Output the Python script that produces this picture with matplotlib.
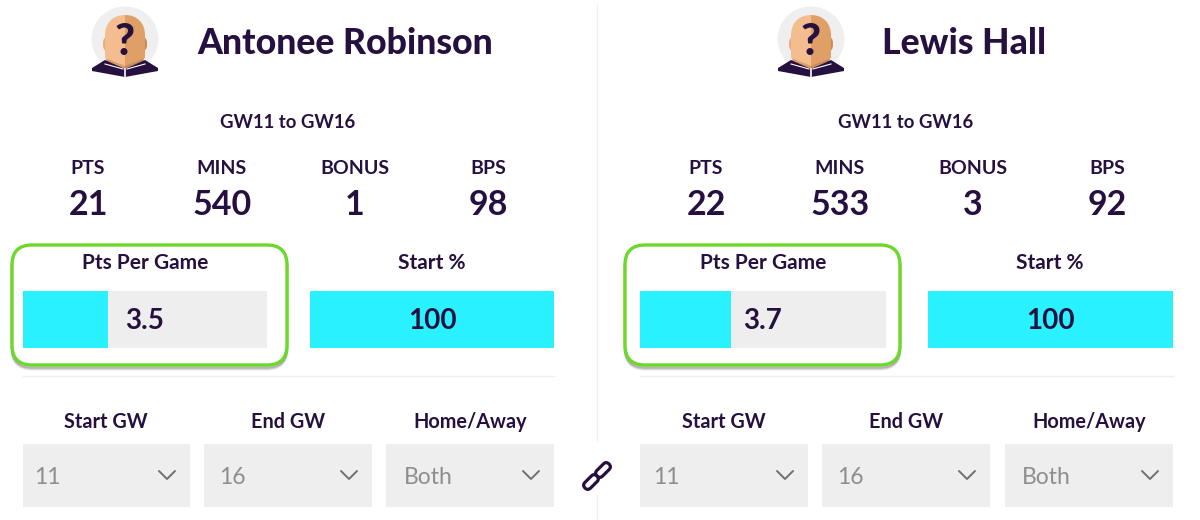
import matplotlib
matplotlib.use("Agg")
import matplotlib.pyplot as plt
from matplotlib.patches import FancyBboxPatch, Ellipse, Polygon, Rectangle, PathPatch
from matplotlib.path import Path
from matplotlib.transforms import Affine2D

players = ["Antonee Robinson", "Lewis Hall"]
period = "GW11 to GW16"
stat_labels = ["PTS", "MINS", "BONUS", "BPS"]
pts = [21, 22]
mins = [540, 533]
bonus = [1, 3]
bps = [98, 92]
pts_per_game = [3.5, 3.7]
start_pct = [100, 100]
pts_per_game_max = 10
start_pct_max = 100
filter_labels = ["Start GW", "End GW", "Home/Away"]
filter_values = ["11", "16", "Both"]

DARK = "#25103f"
CYAN = "#2af1ff"
GREY = "#eeeeee"
MUTED = "#8e8e8e"
GREEN = "#6cd82a"
W, H = 1200, 520
FONT = "Lato"

fig = plt.figure(figsize=(W / 100, H / 100), dpi=100, facecolor="white")
ax = fig.add_axes([0, 0, 1, 1])
ax.set_xlim(0, W)
ax.set_ylim(H, 0)
ax.axis("off")


def label(x, y, s, size, color=DARK, ha="center", weight="bold", **kw):
    ax.text(x, y + 2, s, fontsize=size, color=color, ha=ha, va="center",
            family=FONT, fontweight=weight, **kw)


def blob(points, color, z=2):
    ax.add_patch(Polygon(points, closed=True, fc=color, ec="none", zorder=z))


def avatar(cx):
    ax.add_patch(Ellipse((cx, 39), 67, 65, fc="#efefef", ec="none", zorder=1))
    # ears
    ax.add_patch(Ellipse((cx - 20, 44), 4, 12, fc="#e8ab7e", ec="none", zorder=2))
    ax.add_patch(Ellipse((cx + 20, 44), 4, 12, fc="#c98a56", ec="none", zorder=2))
    # neck and shirt collar
    blob([(cx - 18, 50), (cx, 50), (cx, 71), (cx - 19, 64)], "#d99a68", 2)
    blob([(cx + 18, 50), (cx, 50), (cx, 71), (cx + 19, 64)], "#c88a58", 2)
    # head: two-tone split down the middle
    head = Path([(cx, 15), (cx - 13, 15), (cx - 20, 24), (cx - 20, 35), (cx - 20, 58),
                 (cx, 66), (cx, 15)],
                [Path.MOVETO, Path.CURVE4, Path.CURVE4, Path.CURVE4, Path.LINETO,
                 Path.LINETO, Path.CLOSEPOLY])
    ax.add_patch(PathPatch(head, fc="#f3bd90", ec="none", zorder=3))
    head_r = Path([(cx, 15), (cx + 13, 15), (cx + 20, 24), (cx + 20, 35), (cx + 20, 58),
                   (cx, 66), (cx, 15)],
                  [Path.MOVETO, Path.CURVE4, Path.CURVE4, Path.CURVE4, Path.LINETO,
                   Path.LINETO, Path.CLOSEPOLY])
    ax.add_patch(PathPatch(head_r, fc="#e19f68", ec="none", zorder=3))
    # shoulders
    blob([(cx - 33, 68), (cx - 20, 60), (cx, 69), (cx, 77), (cx - 33, 71)], DARK, 4)
    blob([(cx + 33, 68), (cx + 20, 60), (cx, 69), (cx, 77), (cx + 33, 71)], DARK, 4)
    ax.plot([cx - 20, cx - 2], [64, 69], color="white", lw=0.8, zorder=5)
    ax.plot([cx + 20, cx + 2], [64, 69], color="white", lw=0.8, zorder=5)
    ax.plot([cx, cx], [69, 77], color="white", lw=1.2, zorder=5)
    ax.text(cx, 42, "?", fontsize=31, color=DARK, ha="center", va="center",
            family=FONT, fontweight="black", zorder=6)


def chevron(cx, cy):
    ax.plot([cx - 8, cx, cx + 8], [cy - 4, cy + 4, cy - 4], color="#6f6f6f", lw=1.4,
            solid_capstyle="round", zorder=3)


def value_bar(x0, x1, y0, y1, value, vmax, text_x):
    bar_ax = fig.add_axes([x0 / W, 1 - y1 / H, (x1 - x0) / W, (y1 - y0) / H])
    bar_ax.barh([0], [value], height=1, color=CYAN)
    bar_ax.set_xlim(0, vmax)
    bar_ax.set_ylim(-0.5, 0.5)
    bar_ax.set_facecolor(GREY)
    bar_ax.set_xticks([])
    bar_ax.set_yticks([])
    for sp in bar_ax.spines.values():
        sp.set_visible(False)
    bar_ax.set_zorder(3)
    ax.set_zorder(1)
    fx = (text_x - x0) / (x1 - x0)
    bar_ax.text(fx, 0.47, f"{value}", transform=bar_ax.transAxes, fontsize=20,
                color=DARK, ha="center", va="center", family=FONT, fontweight="bold")


panels = [
    dict(avatar=125, title=197, gw=288, cols=[88, 222, 355, 488], box=(12, 287),
         tr1=(23, 267), t1=145, tr2=(310, 554), t2=432, rule=(23, 554),
         dd=[(23, 190), (204, 372), (386, 554)], ddtxt=[47, 232, 428],
         chev=[167, 349, 531], head=[106, 288, 470]),
    dict(avatar=811, title=882, gw=906, cols=[706, 840, 973, 1107], box=(625, 900),
         tr1=(640, 886), t1=763, tr2=(928, 1173), t2=1050, rule=(640, 1173),
         dd=[(640, 808), (822, 990), (1005, 1173)], ddtxt=[666, 850, 1046],
         chev=[785, 967, 1150], head=[724, 906, 1089]),
]

# central divider and link icon
ax.plot([597, 597], [5, 440], color="#efefef", lw=1, zorder=0)
ax.plot([597, 597], [495, 520], color="#efefef", lw=1, zorder=0)
for tx, ty in [(591, 482), (603, 470)]:
    link = FancyBboxPatch((-8.5, -4), 17, 8, boxstyle="round,pad=0,rounding_size=4",
                          fc="none", ec=DARK, lw=2.3, zorder=4)
    link.set_transform(Affine2D().rotate_deg(-45).translate(tx, ty) + ax.transData)
    ax.add_patch(link)

for i, p in enumerate(panels):
    avatar(p["avatar"])
    label(p["title"], 42, players[i], 25.7, ha="left", weight="black")
    label(p["gw"], 121, period, 13.3)
    values = [pts[i], mins[i], bonus[i], bps[i]]
    for cx, lab, v in zip(p["cols"], stat_labels, values):
        label(cx, 167, lab, 14)
        label(cx, 203, str(v), 24.5, weight="bold")
    # highlight box with soft shadow
    bx0, bx1 = p["box"]
    for off, a in [(4, 0.10), (3, 0.12), (2, 0.15)]:
        ax.add_patch(FancyBboxPatch((bx0, 245 + off), bx1 - bx0, 120,
                                    boxstyle="round,pad=0,rounding_size=20",
                                    fc="none", ec="black", lw=2, alpha=a, zorder=1))
    ax.add_patch(FancyBboxPatch((bx0, 245), bx1 - bx0, 120,
                                boxstyle="round,pad=0,rounding_size=20",
                                fc="white", ec=GREEN, lw=2.4, zorder=2))
    label(p["t1"], 261, "Pts Per Game", 15, zorder=3)
    label(p["t2"], 261, "Start %", 15, zorder=3)
    value_bar(*p["tr1"], 291, 348, pts_per_game[i], pts_per_game_max, p["t1"])
    value_bar(*p["tr2"], 291, 348, start_pct[i], start_pct_max, p["t2"])
    ax.plot(p["rule"], [376, 376], color="#efefef", lw=1, zorder=0)
    for (d0, d1), tx, cx, hx, lab, v in zip(p["dd"], p["ddtxt"], p["chev"], p["head"],
                                            filter_labels, filter_values):
        label(hx, 420, lab, 14.3)
        ax.add_patch(Rectangle((d0, 444), d1 - d0, 63, fc=GREY, ec="none", zorder=1))
        label(tx, 475, v, 16.5, color=MUTED, weight="normal", zorder=3)
        chevron(cx, 475)

fig.savefig("out.png", dpi=100, facecolor="white")
